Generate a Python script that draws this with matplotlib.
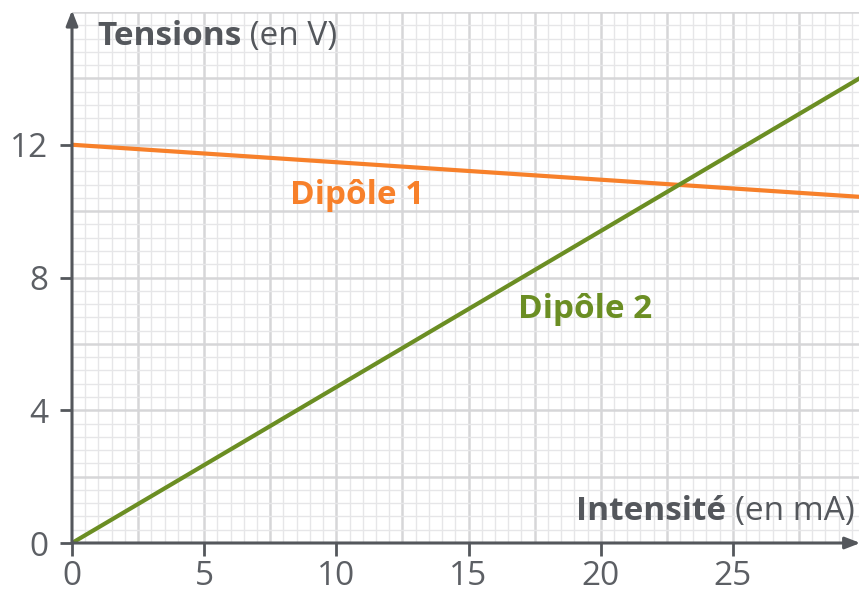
import matplotlib

matplotlib.use("Agg")

import matplotlib.pyplot as plt
import numpy as np

# data
intensite = [0, 30]            # mA
dipole1 = [12.0, 10.42]        # V
dipole2 = [0.0, 14.1]          # V
x_ticks = [0, 5, 10, 15, 20, 25]
y_ticks = [0, 4, 8, 12]

AXIS_COLOR = "#54575c"
ORANGE = "#f7802a"
GREEN = "#6b8e23"
FONT = "Open Sans"
FS = 24

X_MAX = 29.77
Y_MAX = 16.0

fig = plt.figure(figsize=(8.59, 6.0), dpi=100)
ax = fig.add_axes([72 / 859, 57 / 600, (859 - 72) / 859, (543 - 12) / 600])
ax.set_xlim(0, X_MAX)
ax.set_ylim(0, Y_MAX)

# millimetre-paper grid
for x in np.arange(0.5, X_MAX, 0.5):
    major = abs(x / 2.5 - round(x / 2.5)) < 1e-6
    ax.axvline(x, color="#d6d6d8" if major else "#e6e6e8",
               lw=1.8 if major else 1.0, zorder=0)
for y in np.arange(0.4, Y_MAX + 0.01, 0.4):
    major = abs(y / 2 - round(y / 2)) < 1e-6
    ax.axhline(y, color="#d6d6d8" if major else "#e6e6e8",
               lw=1.8 if major else 1.0, zorder=0)

for s in ax.spines.values():
    s.set_visible(False)

# axes with arrows
ax.annotate("", xy=(X_MAX + 0.05, 0), xytext=(0, 0), xycoords="data",
            arrowprops=dict(arrowstyle="-|>,head_length=0.9,head_width=0.35",
                            color=AXIS_COLOR, lw=2.2, shrinkA=0, shrinkB=0),
            annotation_clip=False, zorder=5)
ax.annotate("", xy=(0, Y_MAX + 0.05), xytext=(0, 0), xycoords="data",
            arrowprops=dict(arrowstyle="-|>,head_length=0.9,head_width=0.35",
                            color=AXIS_COLOR, lw=2.2, shrinkA=0, shrinkB=0),
            annotation_clip=False, zorder=5)

ax.set_xticks(x_ticks)
ax.set_yticks(y_ticks)
ax.tick_params(axis="both", direction="out", length=9, width=2,
               color=AXIS_COLOR, labelcolor="#5c5f64", labelsize=FS)
ax.tick_params(axis="x", pad=3)
ax.tick_params(axis="y", pad=8)
for lab in ax.get_xticklabels() + ax.get_yticklabels():
    lab.set_fontfamily(FONT)

ax.plot(intensite, dipole1, color=ORANGE, lw=3, zorder=3, solid_capstyle="butt")
ax.plot(intensite, dipole2, color=GREEN, lw=3, zorder=3, solid_capstyle="butt")

ax.text(10.78, 10.46, "Dipôle 1", color=ORANGE, fontsize=FS, fontweight="bold",
        family=FONT, ha="center", va="center", zorder=4)
ax.text(19.4, 7.04, "Dipôle 2", color=GREEN, fontsize=FS, fontweight="bold",
        family=FONT, ha="center", va="center", zorder=4)

# axis titles: bold word + regular unit
t1 = ax.text(0.95, 15.0, "Tensions", color=AXIS_COLOR, fontsize=FS,
             fontweight="bold", family=FONT, ha="left", va="baseline", zorder=4)
ax.annotate(" (en V)", xy=(1, 0), xycoords=t1, color=AXIS_COLOR, fontsize=FS,
            family=FONT, ha="left", va="bottom", zorder=4)

t2 = ax.text(29.6, 0.7, "(en mA)", color=AXIS_COLOR, fontsize=FS,
             family=FONT, ha="right", va="baseline", zorder=4)
ax.annotate("Intensité ", xy=(0, 0), xycoords=t2, color=AXIS_COLOR, fontsize=FS,
            fontweight="bold", family=FONT, ha="right", va="bottom", zorder=4)

fig.savefig("out.png", dpi=100)
